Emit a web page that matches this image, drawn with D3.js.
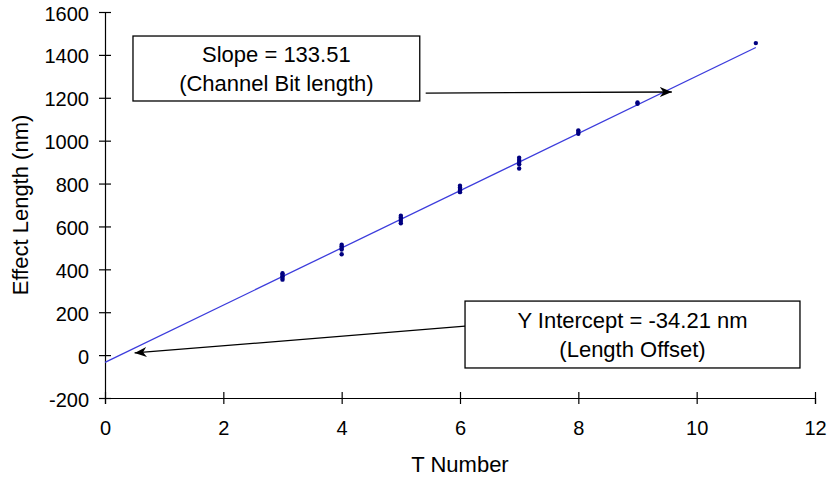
<!DOCTYPE html>
<html>
<head>
<meta charset="utf-8">
<script src="https://cdn.jsdelivr.net/npm/d3@7"></script>
<style>
  body { margin: 0; background: #fff; }
  text { font-family: "Liberation Sans", Arial, sans-serif; fill: #000; }
</style>
</head>
<body>
<div id="chart"></div>
<script>
// Measured effect lengths (nm) per T number
const tNumbers = [3, 4, 5, 6, 7, 8, 9, 11];
const lengths = [
    [352, 360, 368, 375, 382],
    [470, 492, 500, 508, 515],
    [615, 625, 635, 642, 650],
    [760, 768, 775, 782, 790],
    [870, 890, 900, 910, 920],
    [1032, 1040, 1048],
    [1172, 1178],
    [1455]
];

// Linear fit
const slope = 133.51, intercept = -34.21;
const fitRange = [0, 11];

const xTicks = [0, 2, 4, 6, 8, 10, 12];
const yTicks = [-200, 0, 200, 400, 600, 800, 1000, 1200, 1400, 1600];

// Annotations, in data units
const notes = [
    { lines: ["Slope = 133.51", "(Channel Bit length)"],
      box: [0.473, 5.32, 1488, 1185], from: [5.42, 1222], to: [9.58, 1227] },
    { lines: ["Y Intercept = -34.21 nm", "(Length Offset)"],
      box: [6.085, 11.746, 252, -60], from: [6.085, 135], to: [0.5, 10] }
];

const width = 829, height = 479;
const svg = d3.select("#chart").append("svg")
    .attr("width", width)
    .attr("height", height);

const x = d3.scaleLinear().domain([0, 12]).range([105, 815]);
const y = d3.scaleLinear().domain([-200, 1600]).range([398, 12]);

// arrow head
svg.append("defs").append("marker")
    .attr("id", "arrow")
    .attr("viewBox", "0 0 12 10")
    .attr("refX", 12).attr("refY", 5)
    .attr("markerWidth", 12).attr("markerHeight", 10)
    .attr("markerUnits", "userSpaceOnUse")
    .attr("orient", "auto")
    .append("path")
    .attr("d", "M0,0 L12,5 L0,10 L3.5,5 Z")
    .attr("fill", "#000");

// Axes
const xAxis = svg.append("g")
    .attr("transform", `translate(0,${y(-200)})`)
    .call(d3.axisBottom(x).tickValues(xTicks).tickFormat(d => String(d))
        .tickSize(6).tickPadding(20));
xAxis.selectAll(".tick line").attr("y1", -6);

const yAxis = svg.append("g")
    .attr("transform", `translate(${x(0)},0)`)
    .call(d3.axisLeft(y).tickValues(yTicks).tickFormat(d => String(d))
        .tickSize(6).tickPadding(10));
yAxis.selectAll(".tick line").attr("x1", 6).attr("x2", -6);

svg.selectAll(".domain").attr("stroke", "#000").attr("stroke-width", 1.2);
svg.selectAll(".tick line").attr("stroke", "#000").attr("stroke-width", 1.2);
svg.selectAll(".tick text")
    .style("font-size", "20px")
    .style("font-family", "Liberation Sans, Arial, sans-serif")
    .attr("fill", "#000");
xAxis.selectAll(".tick text").attr("dy", "0.55em");
yAxis.selectAll(".tick text").attr("dy", "0.4em");

// Axis titles
svg.append("text")
    .attr("x", (x(0) + x(12)) / 2)
    .attr("y", 472)
    .attr("text-anchor", "middle")
    .style("font-size", "22px")
    .text("T Number");

svg.append("text")
    .attr("transform", `translate(28,${(y(-200) + y(1600)) / 2}) rotate(-90)`)
    .attr("text-anchor", "middle")
    .style("font-size", "22px")
    .text("Effect Length (nm)");

// Fit line
svg.append("line")
    .attr("x1", x(fitRange[0])).attr("y1", y(slope * fitRange[0] + intercept))
    .attr("x2", x(fitRange[1])).attr("y2", y(slope * fitRange[1] + intercept))
    .attr("stroke", "#3c3cdc")
    .attr("stroke-width", 1.3);

// Points
const points = tNumbers.flatMap((t, i) => lengths[i].map(v => ({ t, v })));
svg.selectAll("circle")
    .data(points)
    .enter().append("circle")
    .attr("cx", d => x(d.t))
    .attr("cy", d => y(d.v))
    .attr("r", 2.2)
    .attr("fill", "#000080");

// Annotation boxes and arrows
notes.forEach(n => {
    const [bx0, bx1, by0, by1] = n.box;
    svg.append("line")
        .attr("x1", x(n.from[0])).attr("y1", y(n.from[1]))
        .attr("x2", x(n.to[0])).attr("y2", y(n.to[1]))
        .attr("stroke", "#000")
        .attr("stroke-width", 1.3)
        .attr("marker-end", "url(#arrow)");

    svg.append("rect")
        .attr("x", x(bx0)).attr("y", y(by0))
        .attr("width", x(bx1) - x(bx0))
        .attr("height", y(by1) - y(by0))
        .attr("fill", "#fff")
        .attr("stroke", "#000")
        .attr("stroke-width", 1.3);

    const cx = (x(bx0) + x(bx1)) / 2;
    const cy = (y(by0) + y(by1)) / 2;
    n.lines.forEach((line, j) => {
        svg.append("text")
            .attr("x", cx)
            .attr("y", cy + (j - 0.5) * 29)
            .attr("dy", "0.36em")
            .attr("text-anchor", "middle")
            .style("font-size", "22px")
            .text(line);
    });
});
</script>
</body>
</html>
